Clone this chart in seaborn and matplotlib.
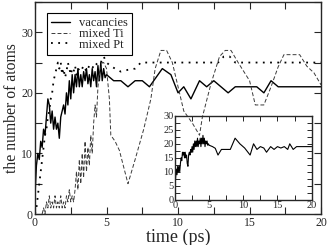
import numpy as np
import pandas as pd
import matplotlib
matplotlib.use("Agg")
import matplotlib.pyplot as plt
import seaborn as sns
from matplotlib.ticker import MultipleLocator

# vacancies (main panel)
vac_t = [0.0, 0.1, 0.2, 0.3, 0.4, 0.5, 0.6, 0.7, 0.8, 0.9,
         1.0, 1.1, 1.2, 1.3, 1.4, 1.5, 1.6, 1.7, 1.8, 1.9,
         2.0, 2.1, 2.2, 2.3, 2.4, 2.5, 2.6, 2.7, 2.8, 2.9,
         3.0, 3.1, 3.2, 3.3, 3.4, 3.5, 3.6, 3.7, 3.8, 3.9,
         4.0, 4.1, 4.2, 4.3, 4.4, 4.5, 4.6, 4.7, 4.8, 4.9,
         5.0, 5.5, 6.0, 6.5, 7.0, 7.5, 8.0, 8.9, 9.5, 10.0,
         10.4, 10.9, 11.5, 12.0, 12.5, 13.5, 14.0, 15.0, 15.5, 16.0,
         16.5, 17.0, 20.0]
vac_n = [3, 8, 10, 9, 12, 11, 14, 13, 16, 19,
         18, 15, 17, 14, 16, 14, 15, 12.5, 16, 17,
         18, 16.5, 20, 18, 22, 19, 23, 20, 23, 21,
         24, 21, 23, 21, 23.5, 22, 24, 21.5, 23, 21,
         24, 22, 23.5, 21, 24.5, 22, 25, 22, 24, 22.5,
         23, 22, 22, 21, 22, 22, 21, 24, 23, 20,
         21, 19, 22, 21, 22, 20, 21, 21, 21, 20,
         22, 21, 21]

# mixed Ti
ti_t = [0.5, 0.6, 0.7, 0.8, 0.9, 1.0, 1.1, 1.2, 1.3, 1.4,
        1.5, 1.6, 1.7, 1.8, 1.9, 2.0, 2.1, 2.2, 2.3, 2.4,
        2.5, 2.6, 2.7, 2.8, 2.9, 3.0, 3.1, 3.2, 3.3, 3.4,
        3.5, 3.6, 3.7, 3.8, 3.9, 4.0, 4.1, 4.2, 4.3, 4.4,
        4.5, 4.6, 4.7, 4.8, 5.0, 5.2, 5.3, 5.6, 5.9, 6.5,
        7.0, 7.6, 8.1, 8.4, 8.8, 9.2, 9.6, 10.0, 10.4, 11.0,
        11.5, 11.7, 12.3, 12.9, 13.3, 13.7, 14.2, 15.0, 15.4, 16.0,
        16.5, 17.0, 17.4, 18.5, 19.0, 19.5, 20.0]
ti_n = [0, 1, 0, 2, 1, 3, 1, 2, 1, 3,
        1, 2, 1, 3, 1, 2, 1, 3, 2, 4,
        2, 3, 2, 4, 7, 4, 9, 5, 10, 6,
        12, 7, 11, 8, 13, 10, 15, 18, 16, 21,
        23, 24, 25, 25, 24, 19, 13, 12, 10.5, 5,
        9, 14, 19, 24, 27, 27, 25, 21, 17, 15,
        13, 16, 21.5, 26, 27, 27, 25, 22, 18, 18,
        21, 24.3, 26.3, 26.3, 24.4, 23.3, 21.3]

# mixed Pt
pt_t = [0.0, 0.1, 0.2, 0.3, 0.4, 0.5, 0.6, 0.7, 0.8, 0.9,
        1.0, 1.1, 1.2, 1.3, 1.4, 1.5, 1.6, 1.7, 1.8, 1.9,
        2.0, 2.1, 2.2, 2.3, 2.4, 2.5, 2.6, 2.7, 2.8, 2.9,
        3.0, 3.2, 3.4, 3.6, 3.8, 4.0, 4.2, 4.4, 4.6, 4.8,
        5.0, 5.3, 5.6, 6.0, 6.5, 7.0, 7.4, 12.8, 13.2, 13.6,
        14.0, 20.0]
pt_n = [0, 1, 3, 5, 7, 9, 11, 13, 14, 16,
        17, 19, 20, 22, 23, 24, 25, 24, 25, 23,
        24, 22.5, 23.5, 25, 24, 23, 24, 23.5, 24.5, 23,
        24, 23.5, 24.5, 23.5, 24.5, 24, 25, 24.5, 25, 26,
        25, 24.4, 24, 23.5, 23.8, 24, 25, 25, 26, 26,
        25, 25]

# inset
ins_t = [0.0, 0.1, 0.2, 0.3, 0.4, 0.5, 0.6, 0.7, 0.8, 0.9,
         1.0, 1.1, 1.2, 1.3, 1.4, 1.5, 1.6, 1.7, 1.8, 1.9,
         2.0, 2.1, 2.2, 2.3, 2.4, 2.5, 2.6, 2.7, 2.8, 2.9,
         3.0, 3.1, 3.2, 3.3, 3.4, 3.5, 3.6, 3.7, 3.8, 3.9,
         4.0, 4.1, 4.2, 4.3, 4.4, 4.5, 4.6, 4.7, 4.8, 4.9,
         5.0, 5.5, 5.9, 6.3, 6.8, 7.6, 8.1, 8.8, 9.5, 10.2,
         11.0, 11.5, 12.0, 12.5, 13.0, 13.4, 14.0, 14.5, 15.0, 15.5,
         16.0, 16.5, 16.8, 17.3, 17.8, 18.5, 20.0]
ins_n = [4, 8, 11, 9, 12, 10, 12, 10, 13, 15,
         14, 17, 16, 17, 15, 17, 15, 16, 13, 12,
         16, 17, 16, 18, 17, 19, 17, 20, 18, 21,
         19, 21, 19, 22, 19, 21, 20, 22, 19, 22,
         20, 23, 20, 22, 19, 21, 20, 21, 19.5, 20,
         19.5, 19, 18.4, 16, 18, 18, 18, 22, 20, 18.5,
         16, 20, 18, 19, 18.5, 17, 19, 18, 19, 18.5,
         19, 18, 20, 18, 19, 19, 19]

sns.set_style("ticks")
plt.rcParams["font.family"] = ["Liberation Serif", "DejaVu Serif"]

fig = plt.figure(figsize=(3.27, 2.45), dpi=100)
ax = fig.add_axes([0.107, 0.1265, 0.875, 0.8655])

df_vac = pd.DataFrame({"t": vac_t, "n": vac_n})
df_ti = pd.DataFrame({"t": ti_t, "n": ti_n})
df_pt = pd.DataFrame({"t": pt_t, "n": pt_n})
df_ins = pd.DataFrame({"t": ins_t, "n": ins_n})

sns.lineplot(data=df_vac, x="t", y="n", ax=ax, color="black", lw=1.0,
             estimator=None, label="vacancies")
sns.lineplot(data=df_ti, x="t", y="n", ax=ax, color="#3a3a3a", lw=0.7,
             estimator=None, label="mixed Ti", linestyle=(0, (4, 2.2)))
sns.lineplot(data=df_pt, x="t", y="n", ax=ax, color="black", lw=1.3,
             estimator=None, label="mixed Pt", linestyle=(0, (1, 3)))

ax.set_xlim(0, 20)
ax.set_ylim(0, 35)
ax.set_xlabel("time (ps)", fontsize=13, labelpad=0)
ax.set_ylabel("the number of atoms", fontsize=11.3, labelpad=1)
ax.xaxis.set_major_locator(MultipleLocator(5))
ax.xaxis.set_minor_locator(MultipleLocator(2.5))
ax.yaxis.set_major_locator(MultipleLocator(10))
ax.yaxis.set_minor_locator(MultipleLocator(5))
ax.tick_params(which="both", direction="in", top=True, right=True,
               length=5, width=0.8, labelsize=8.5)
ax.tick_params(axis="x", pad=2)
ax.tick_params(axis="y", pad=1.5)
for s in ax.spines.values():
    s.set_linewidth(1.0)
    s.set_visible(True)

leg = ax.legend(loc="upper left", bbox_to_anchor=(0.041, 0.948),
                borderaxespad=0, fontsize=9, handlelength=1.5,
                handletextpad=0.7, labelspacing=-0.1, borderpad=0.35,
                fancybox=False, framealpha=1, edgecolor="black")
leg.get_frame().set_linewidth(0.8)

ins = fig.add_axes([0.535, 0.1837, 0.418, 0.344])
ins.patch.set_alpha(0)
sns.lineplot(data=df_ins, x="t", y="n", ax=ins, color="black", lw=0.8,
             estimator=None)
ins.set_xlim(0, 20)
ins.set_ylim(0, 30)
ins.set_xlabel("")
ins.set_ylabel("")
ins.xaxis.set_major_locator(MultipleLocator(5))
ins.xaxis.set_minor_locator(MultipleLocator(2.5))
ins.yaxis.set_major_locator(MultipleLocator(5))
ins.yaxis.set_minor_locator(MultipleLocator(2.5))
ins.tick_params(which="both", direction="in", top=True, right=True,
                length=3.5, width=0.7, labelsize=7.5, pad=1)
for s in ins.spines.values():
    s.set_linewidth(1.0)
    s.set_visible(True)

fig.savefig("out.png", dpi=100)
